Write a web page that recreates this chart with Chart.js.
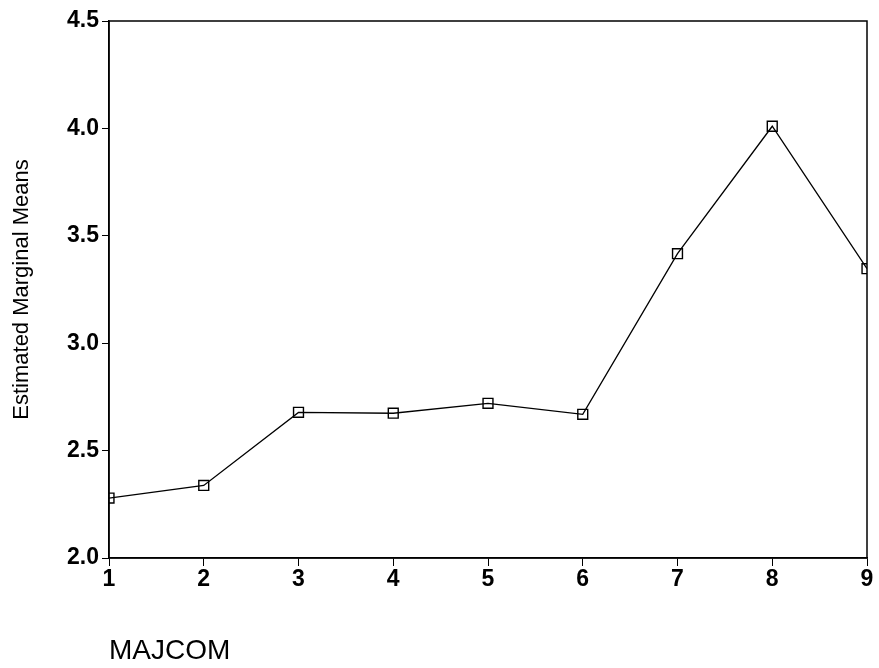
<!DOCTYPE html>
<html>
<head>
<meta charset="utf-8">
<script src="https://cdn.jsdelivr.net/npm/chart.js@4/dist/chart.umd.min.js"></script>
<style>
  html, body { margin: 0; padding: 0; background: #fff; }
  canvas { display: block; }
</style>
</head>
<body>
<canvas id="meansChart" width="879" height="668"></canvas>
<script>
// MAJCOM levels and their estimated marginal means
const majcom = [1, 2, 3, 4, 5, 6, 7, 8, 9];
const means = [2.279, 2.338, 2.678, 2.674, 2.720, 2.669, 3.417, 4.010, 3.347];
const yTicks = [2.0, 2.5, 3.0, 3.5, 4.0, 4.5];

const FONT = "'Liberation Sans', Arial, Helvetica, sans-serif";

// frame around the plot area (top and right sides)
const frame = {
    id: "frame",
    afterDraw(chart){
        const a = chart.chartArea;
        const ctx = chart.ctx;
        ctx.save();
        ctx.strokeStyle = "#000";
        ctx.lineWidth = 1.5;
        ctx.strokeRect(a.left, a.top, a.right - a.left, a.bottom - a.top);
        ctx.restore();
    }
};

const ctx = document.getElementById("meansChart");

new Chart(ctx, {
    type: "line",
    data: {
        datasets: [{
            data: majcom.map((m, i) => ({ x: m, y: means[i] })),
            borderColor: "#000",
            borderWidth: 1.3,
            tension: 0,
            fill: false,
            pointStyle: "rect",
            pointRadius: 7,
            pointBorderWidth: 1.4,
            pointBorderColor: "#000",
            pointBackgroundColor: "rgba(0,0,0,0)"
        }]
    },
    options: {
        responsive: false,
        animation: false,
        devicePixelRatio: 1,
        layout: {
            padding: { top: 21, right: 12, bottom: 0, left: 0 }
        },
        plugins: {
            legend: { display: false },
            tooltip: { enabled: false }
        },
        scales: {
            x: {
                type: "linear",
                min: 1,
                max: 9,
                afterFit(scale){ scale.height = 110; },
                ticks: {
                    stepSize: 1,
                    color: "#000",
                    padding: 0,
                    font: { family: FONT, size: 23, weight: "bold" }
                },
                grid: {
                    drawOnChartArea: false,
                    drawTicks: true,
                    tickLength: 8,
                    color: "#000"
                },
                border: { display: true, color: "#000", width: 1.5 },
                title: {
                    display: true,
                    text: "MAJCOM",
                    align: "start",
                    color: "#000",
                    padding: { top: 0, bottom: 0 },
                    font: { family: FONT, size: 28, weight: "normal" }
                }
            },
            y: {
                min: 2,
                max: 4.5,
                afterFit(scale){ scale.width = 109; },
                afterBuildTicks(scale){
                    scale.ticks = yTicks.map(v => ({ value: v }));
                },
                ticks: {
                    color: "#000",
                    padding: 3,
                    callback: v => v.toFixed(1),
                    font: { family: FONT, size: 23, weight: "bold" }
                },
                grid: {
                    drawOnChartArea: false,
                    drawTicks: true,
                    tickLength: 7,
                    color: "#000"
                },
                border: { display: true, color: "#000", width: 1.5 },
                title: {
                    display: true,
                    text: "Estimated Marginal Means",
                    color: "#000",
                    padding: { top: 9, bottom: 0 },
                    font: { family: FONT, size: 22, weight: "normal" }
                }
            }
        }
    },
    plugins: [frame]
});
</script>
</body>
</html>
